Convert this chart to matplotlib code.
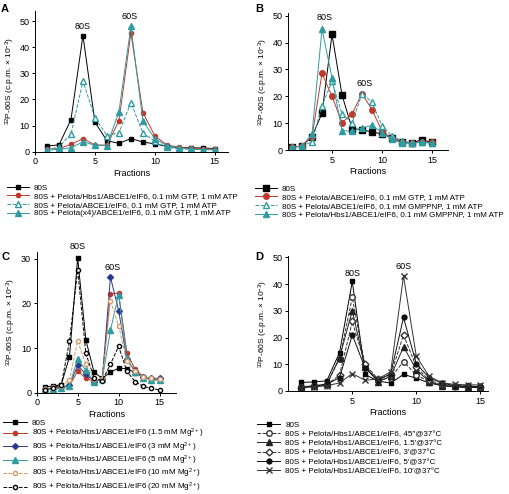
import matplotlib
matplotlib.use("Agg")
import matplotlib.pyplot as plt

plt.rcParams['font.family'] = ['Liberation Sans', 'DejaVu Sans']
plt.rcParams['mathtext.fontset'] = 'custom'
plt.rcParams['mathtext.rm'] = 'Liberation Sans'
plt.rcParams['mathtext.it'] = 'Liberation Sans:italic'

fractions = list(range(1, 16))

# panel A
a_80s = [2.2, 2.6, 12.3, 44.5, 11.3, 4.2, 3.2, 5.0, 3.7, 3.0, 2.0, 1.6, 1.5, 1.4, 1.2]
a_hbs1 = [1.0, 1.2, 2.8, 5.0, 2.6, 2.5, 11.8, 45.5, 15.0, 6.0, 2.6, 1.7, 1.3, 1.2, 1.0]
a_pelota = [0.8, 1.8, 6.7, 27.0, 13.0, 6.2, 7.2, 18.8, 7.2, 4.0, 1.7, 1.0, 1.0, 0.8, 0.7]
a_pelota4 = [0.5, 1.0, 1.5, 3.8, 2.5, 2.3, 15.3, 48.0, 11.8, 5.0, 2.3, 1.5, 1.0, 0.8, 0.8]
a_labels = ["80S",
            "80S + Pelota/Hbs1/ABCE1/eIF6, 0.1 mM GTP, 1 mM ATP",
            "80S + Pelota/ABCE1/eIF6, 0.1 mM GTP, 1 mM ATP",
            "80S + Pelota(x4)/ABCE1/eIF6, 0.1 mM GTP, 1 mM ATP"]

# panel B
b_80s = [1.0, 1.5, 5.0, 13.7, 43.0, 20.5, 8.0, 7.5, 6.7, 6.0, 4.5, 3.0, 2.7, 3.8, 2.8]
b_gtp = [1.0, 1.5, 5.0, 28.5, 20.0, 10.2, 13.3, 21.0, 15.0, 7.0, 4.5, 3.0, 2.5, 3.0, 2.8]
b_gmppnp = [1.0, 1.5, 3.0, 16.5, 25.5, 13.5, 10.0, 21.0, 17.8, 9.0, 5.2, 3.5, 2.5, 3.0, 2.5]
b_hbs1 = [1.0, 1.5, 5.8, 45.0, 26.8, 7.2, 7.0, 8.2, 9.2, 6.5, 4.0, 2.5, 2.5, 3.0, 2.5]
b_labels = ["80S",
            "80S + Pelota/ABCE1/eIF6, 0.1 mM GTP, 1 mM ATP",
            "80S + Pelota/ABCE1/eIF6, 0.1 mM GMPPNP, 1 mM ATP",
            "80S + Pelota/Hbs1/ABCE1/eIF6, 0.1 mM GMPPNP, 1 mM ATP"]

# panel C
c_80s = [1.3, 1.5, 1.8, 8.1, 30.2, 11.8, 4.6, 3.2, 4.6, 5.5, 5.4, 4.5, 3.5, 3.1, 3.0]
c_mg15 = [0.8, 0.9, 1.0, 1.5, 4.9, 3.2, 2.5, 3.0, 22.2, 22.3, 9.0, 5.3, 3.6, 3.2, 3.0]
c_mg3 = [0.9, 1.0, 1.2, 1.7, 6.1, 4.2, 2.5, 3.0, 25.9, 18.4, 7.5, 4.8, 3.6, 3.2, 3.2]
c_mg5 = [0.8, 0.8, 1.0, 1.6, 7.6, 5.0, 2.5, 3.0, 14.0, 22.0, 7.7, 4.7, 3.4, 2.8, 2.8]
c_mg10 = [0.9, 1.2, 1.5, 2.8, 11.6, 6.4, 3.0, 3.0, 20.6, 15.0, 7.0, 4.8, 3.5, 3.2, 3.0]
c_mg20 = [0.7, 1.1, 1.8, 11.5, 27.5, 8.8, 3.3, 2.7, 6.4, 10.4, 4.8, 2.5, 1.4, 1.0, 0.6]
c_labels = ["80S",
            "80S + Pelota/Hbs1/ABCE1/eIF6 (1.5 mM Mg$^{2+}$)",
            "80S + Pelota/Hbs1/ABCE1/eIF6 (3 mM Mg$^{2+}$)",
            "80S + Pelota/Hbs1/ABCE1/eIF6 (5 mM Mg$^{2+}$)",
            "80S + Pelota/Hbs1/ABCE1/eIF6 (10 mM Mg$^{2+}$)",
            "80S + Pelota/Hbs1/ABCE1/eIF6 (20 mM Mg$^{2+}$)"]

# panel D
d_80s = [3.2, 3.4, 3.8, 14.3, 41.0, 6.2, 3.7, 3.0, 6.2, 4.8, 3.0, 2.0, 1.5, 1.3, 1.3]
d_45s = [1.5, 1.8, 2.5, 12.0, 35.0, 9.5, 4.0, 5.0, 11.0, 6.0, 3.5, 2.0, 1.8, 1.6, 1.5]
d_15m = [1.5, 2.0, 2.5, 12.5, 30.0, 9.0, 3.5, 5.5, 16.5, 8.0, 3.5, 2.0, 1.8, 1.6, 1.5]
d_3m = [1.3, 1.8, 2.3, 6.0, 26.0, 10.0, 4.5, 6.0, 21.0, 9.0, 4.0, 2.5, 2.0, 1.8, 1.6]
d_5m = [1.3, 1.8, 2.5, 5.0, 21.0, 8.5, 4.0, 6.5, 27.5, 10.2, 5.0, 3.0, 2.0, 1.8, 1.7]
d_10m = [1.3, 1.5, 2.0, 3.0, 6.5, 4.0, 4.5, 7.2, 43.0, 13.0, 5.5, 3.0, 2.5, 2.3, 2.3]
d_labels = ["80S",
            "80S + Pelota/Hbs1/ABCE1/eIF6, 45\u2033@37\u00b0C",
            "80S + Pelota/Hbs1/ABCE1/eIF6, 1.5\u2032@37\u00b0C",
            "80S + Pelota/Hbs1/ABCE1/eIF6, 3\u2032@37\u00b0C",
            "80S + Pelota/Hbs1/ABCE1/eIF6, 5\u2032@37\u00b0C",
            "80S + Pelota/Hbs1/ABCE1/eIF6, 10\u2032@37\u00b0C"]

red = "#c0392b"
teal = "#2e9ca0"
blue = "#2b3a8f"
tan = "#d49a66"
ylab = "$^{32}$P-60S (c.p.m. \u00d7 10$^{-3}$)"

fig = plt.figure(figsize=(5.09, 4.94), dpi=100)


def style(ax, xlim, ylim, xticks, yticks):
    ax.set_xlim(*xlim)
    ax.set_ylim(*ylim)
    ax.set_xticks(xticks)
    ax.set_yticks(yticks)
    ax.spines['top'].set_visible(False)
    ax.spines['right'].set_visible(False)
    for s in ['left', 'bottom']:
        ax.spines[s].set_linewidth(0.7)
    ax.tick_params(labelsize=6.5, width=0.7, length=2.5, pad=1.5)
    ax.set_xlabel("Fractions", fontsize=6.5, labelpad=2)
    ax.set_ylabel(ylab, fontsize=6, labelpad=2)


def leg(ax, x, y, spacing=0.12, hl=2.7, fs=5.8):
    ax.legend(loc='upper left', bbox_to_anchor=(x / 509, 1 - y / 494),
              bbox_transform=fig.transFigure, frameon=False, fontsize=fs,
              borderpad=0, borderaxespad=0, handlelength=hl, handletextpad=0.6,
              labelspacing=spacing, numpoints=1)


lw = 0.7

# A
axA = fig.add_axes([35 / 509, 1 - 151.7 / 494, 193 / 509, 141 / 494])
axA.plot(fractions, a_80s, '-s', color='black', lw=lw, ms=3, label=a_labels[0])
axA.plot(fractions, a_hbs1, '-o', color=red, lw=lw, ms=3, label=a_labels[1])
axA.plot(fractions, a_pelota, '--^', color=teal, lw=lw, ms=5, mfc='white', label=a_labels[2])
axA.plot(fractions, a_pelota4, '-^', color=teal, lw=lw, ms=4.5, label=a_labels[3])
style(axA, (0, 16.1), (0, 54), [0, 5, 10, 15], [0, 10, 20, 30, 40, 50])
axA.text(4, 48, "80S", fontsize=6.5, ha='center', va='center')
axA.text(7.9, 51.8, "60S", fontsize=6.5, ha='center', va='center')
leg(axA, 7, 184)

# B
axB = fig.add_axes([288 / 509, 1 - 150 / 494, 160 / 509, 137 / 494])
axB.plot(fractions, b_80s, '-s', color='black', lw=lw, ms=4, label=b_labels[0])
axB.plot(fractions, b_gtp, '-o', color=red, lw=lw, ms=4, label=b_labels[1])
axB.plot(fractions, b_gmppnp, '--^', color=teal, lw=lw, ms=5, mfc='white', label=b_labels[2])
axB.plot(fractions, b_hbs1, '-^', color=teal, lw=lw, ms=5, label=b_labels[3])
style(axB, (0.6, 16.6), (0, 51), [5, 10, 15], [0, 10, 20, 30, 40, 50])
axB.text(4.3, 49.4, "80S", fontsize=6.5, ha='center', va='center')
axB.text(8.3, 24.7, "60S", fontsize=6.5, ha='center', va='center')
leg(axB, 255, 185)

# C
axC = fig.add_axes([36.7 / 509, 1 - 392.7 / 494, 139.3 / 509, 141 / 494])
axC.plot(fractions, c_80s, '-s', color='black', lw=lw, ms=3, label=c_labels[0])
axC.plot(fractions, c_mg15, '-o', color=red, lw=lw, ms=3, label=c_labels[1])
axC.plot(fractions, c_mg3, '-D', color=blue, lw=lw, ms=3, label=c_labels[2])
axC.plot(fractions, c_mg5, '-^', color=teal, lw=lw, ms=4, label=c_labels[3])
axC.plot(fractions, c_mg10, '--o', color=tan, lw=lw, ms=3, mfc='white', label=c_labels[4])
axC.plot(fractions, c_mg20, '--o', color='black', lw=lw, ms=3, mfc='white', label=c_labels[5])
style(axC, (0, 17), (0, 31.6), [0, 5, 10, 15], [0, 10, 20, 30])
axC.text(5, 32.7, "80S", fontsize=6.5, ha='center', va='center', clip_on=False)
axC.text(9.3, 28.1, "60S", fontsize=6.5, ha='center', va='center')
leg(axC, 3, 419, spacing=0.02, hl=3.0)

# D
axD = fig.add_axes([288.3 / 509, 1 - 391 / 494, 199.7 / 509, 135 / 494])
axD.plot(fractions, d_80s, '-s', color='black', lw=lw, ms=3.5, label=d_labels[0])
axD.plot(fractions, d_45s, '--o', color='#333333', lw=lw, ms=4, mfc='white', label=d_labels[1])
axD.plot(fractions, d_15m, '-^', color='#222222', lw=lw, ms=4, label=d_labels[2])
axD.plot(fractions, d_3m, '--D', color='#333333', lw=lw, ms=3.5, mfc='white', label=d_labels[3])
axD.plot(fractions, d_5m, '-o', color='#111111', lw=lw, ms=3.5, label=d_labels[4])
axD.plot(fractions, d_10m, '-x', color='#333333', lw=lw, ms=4, label=d_labels[5])
style(axD, (0, 15.6), (0, 50.5), [5, 10, 15], [0, 10, 20, 30, 40, 50])
axD.text(5, 44, "80S", fontsize=6.5, ha='center', va='center')
axD.text(9, 46.6, "60S", fontsize=6.5, ha='center', va='center')
leg(axD, 257, 421, spacing=0.2, hl=2.9)

for lab, x, y in [("A", 1, 4), ("B", 255, 4), ("C", 1, 252), ("D", 255, 252)]:
    fig.text(x / 509, 1 - y / 494, lab, fontsize=8, fontweight='bold', va='top', ha='left')

fig.savefig("out.png", dpi=100)
